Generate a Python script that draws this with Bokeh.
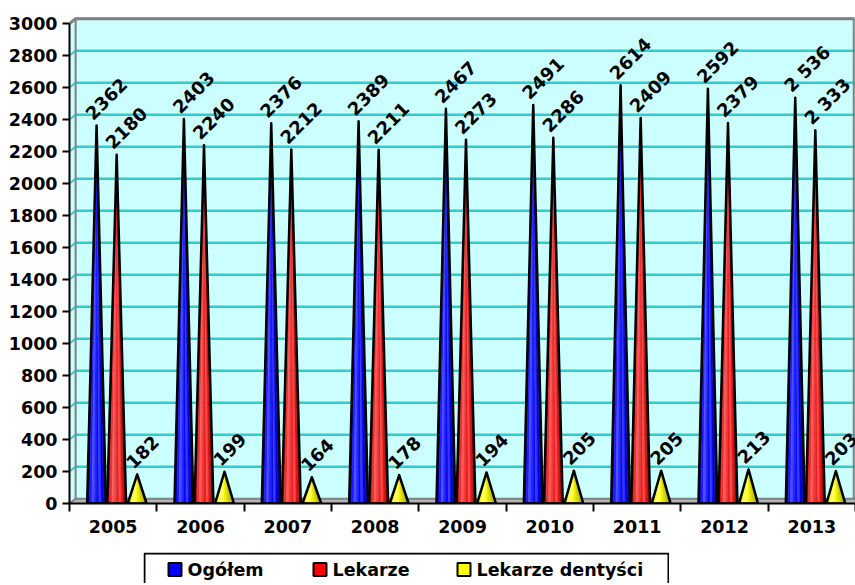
import math
from bokeh.plotting import figure
from bokeh.models import Range1d, FixedTicker, Spacer
from bokeh.layouts import column, row
from bokeh.embed import file_html
from bokeh.resources import INLINE
from bokeh.core.properties import value

years = ["2005", "2006", "2007", "2008", "2009", "2010", "2011", "2012", "2013"]
ogolem = [2362, 2403, 2376, 2389, 2467, 2491, 2614, 2592, 2536]
lekarze = [2180, 2240, 2212, 2211, 2273, 2286, 2409, 2379, 2333]
dentysci = [182, 199, 164, 178, 194, 205, 205, 213, 203]
ogolem_labels = ["2362", "2403", "2376", "2389", "2467", "2491", "2614", "2592", "2 536"]
lekarze_labels = ["2180", "2240", "2212", "2211", "2273", "2286", "2409", "2379", "2 333"]
dentysci_labels = ["182", "199", "164", "178", "194", "205", "205", "213", "203"]
series_names = ["Ogółem", "Lekarze", "Lekarze dentyści"]
y_ticks = list(range(0, 3001, 200))

FONT = "DejaVu Sans"
XMAX = 9.0
OX, OY = 0.07, 30

p = figure(width=855, height=552, x_range=Range1d(0, XMAX), y_range=Range1d(0, 3144),
           output_backend="svg", toolbar_location=None,
           min_border_left=69, min_border_right=0, min_border_top=0, min_border_bottom=49)
p.outline_line_color = None
p.xgrid.visible = False
p.ygrid.visible = False
p.background_fill_color = "white"
p.border_fill_color = "white"

# 3D walls
p.patch([OX, XMAX + 1, XMAX + 1, OX], [OY, OY, 3000 + OY, 3000 + OY], fill_color="#CCFFFF", line_color=None)
p.patch([0, OX, OX, 0], [0, OY, 3000 + OY, 3000], fill_color="#CCFFFF", line_color=None)
p.patch([0, XMAX + 1, XMAX + 1, OX], [0, 0, OY, OY], fill_color="#B4B4B4", line_color=None)
grid_v = [v for v in y_ticks if v > 0]
p.segment(x0=[OX] * len(grid_v), y0=[v + OY for v in grid_v], x1=[XMAX + 1] * len(grid_v),
          y1=[v + OY for v in grid_v], line_color="#33CCCC", line_width=2.5)
p.segment(x0=[0] * len(grid_v), y0=grid_v, x1=[OX] * len(grid_v), y1=[v + OY for v in grid_v],
          line_color="#33CCCC", line_width=2)
p.line([0, OX, XMAX - 0.02], [3000, 3000 + OY, 3000 + OY], line_color="#808080", line_width=3)
p.line([XMAX - 0.02, XMAX - 0.02], [OY, 3000 + OY], line_color="#808080", line_width=2)
p.line([OX, OX], [OY, 3000 + OY], line_color="#808080", line_width=2)
p.line([0, OX, XMAX + 1], [0, OY, OY], line_color="#808080", line_width=2)

# cones
profiles = [
    ["#0000C0", "#1A1AFF", "#4D4DFF", "#2626FF", "#0A0AF0", "#3636FF", "#0000E0", "#0000A8"],
    ["#C81010", "#E83030", "#FF5A5A", "#F03C3C", "#E82020", "#FF4848", "#D81818", "#B00000"],
    ["#E6E600", "#FFFF33", "#FFFF70", "#FFFF33", "#F0F000", "#E0E000", "#CCCC00", "#B0B000"],
]
offsets = [0.31, 0.54, 0.775]
HW = 0.108
N = 8
all_vals = [ogolem, lekarze, dentysci]
all_labels = [ogolem_labels, lekarze_labels, dentysci_labels]
for s in range(3):
    xs, ys, cols = [], [], []
    oxs, oys = [], []
    for i, v in enumerate(all_vals[s]):
        c = i + offsets[s]
        for k in range(N):
            a = c - HW + k * 2 * HW / N
            b = c - HW + (k + 1) * 2 * HW / N
            xs.append([a, b, c])
            ys.append([0, 0, v])
            cols.append(profiles[s][k])
        oxs.append([c - HW, c + HW, c])
        oys.append([0, 0, v])
    p.patches(xs, ys, fill_color=cols, line_color=cols, line_width=0.5)
    p.patches(oxs, oys, fill_alpha=0, line_color="black", line_width=2.5, line_join="round")
    p.text(x=[i + offsets[s] for i in range(9)], y=all_vals[s], text=all_labels[s],
           angle=math.pi / 4, text_align="left", text_baseline="alphabetic",
           x_offset=-8, y_offset=-9, text_font=value(FONT), text_font_style="bold",
           text_font_size="18px", text_color="black")

# axes
p.yaxis.ticker = FixedTicker(ticks=y_ticks)
p.yaxis.bounds = (0, 3000)
p.yaxis.axis_line_width = 2
p.yaxis.axis_line_color = "black"
p.yaxis.major_tick_out = 7
p.yaxis.major_tick_in = 0
p.yaxis.major_tick_line_width = 2
p.yaxis.minor_tick_line_color = None
p.yaxis.major_label_standoff = 5
p.yaxis.major_label_text_font = FONT
p.yaxis.major_label_text_font_style = "bold"
p.yaxis.major_label_text_font_size = "17.5px"
p.yaxis.major_label_text_color = "black"

centers = [i + 0.5 for i in range(9)]
p.xaxis.ticker = FixedTicker(ticks=centers, minor_ticks=list(range(10)))
p.xaxis.major_label_overrides = {c: y for c, y in zip(centers, years)}
p.xaxis.bounds = (0, XMAX)
p.xaxis.axis_line_width = 2
p.xaxis.axis_line_color = "black"
p.xaxis.major_tick_out = 0
p.xaxis.major_tick_in = 0
p.xaxis.major_tick_line_color = None
p.xaxis.minor_tick_out = 8
p.xaxis.minor_tick_in = 0
p.xaxis.minor_tick_line_width = 2
p.xaxis.minor_tick_line_color = "black"
p.xaxis.major_label_standoff = 8
p.xaxis.major_label_text_font = FONT
p.xaxis.major_label_text_font_style = "bold"
p.xaxis.major_label_text_font_size = "17.5px"
p.xaxis.major_label_text_color = "black"

# legend
leg = figure(width=526, height=31, x_range=Range1d(0, 526), y_range=Range1d(0, 31),
             output_backend="svg", toolbar_location=None,
             min_border_left=0, min_border_right=0, min_border_top=0, min_border_bottom=0)
leg.axis.visible = False
leg.xgrid.visible = False
leg.ygrid.visible = False
leg.outline_line_color = None
leg.quad(left=[1], right=[525], bottom=[-5], top=[30], fill_color="white", line_color="black", line_width=2)
leg_sq_x = [31.5, 176.5, 320.5]
leg_tx_x = [44, 189, 333]
leg_colors = ["#0000FF", "#FF0000", "#FFFF00"]
leg.scatter(x=leg_sq_x, y=[14] * 3, marker="square", size=13, fill_color=leg_colors,
            line_color="black", line_width=2)
leg.text(x=leg_tx_x, y=[14] * 3, text=series_names, text_align="left", text_baseline="middle",
         text_font=value(FONT), text_font_style="bold", text_font_size="17.5px", text_color="black")

layout = column(p, row(Spacer(width=143, height=31), leg))
open("out.html", "w").write(file_html(layout, INLINE))
